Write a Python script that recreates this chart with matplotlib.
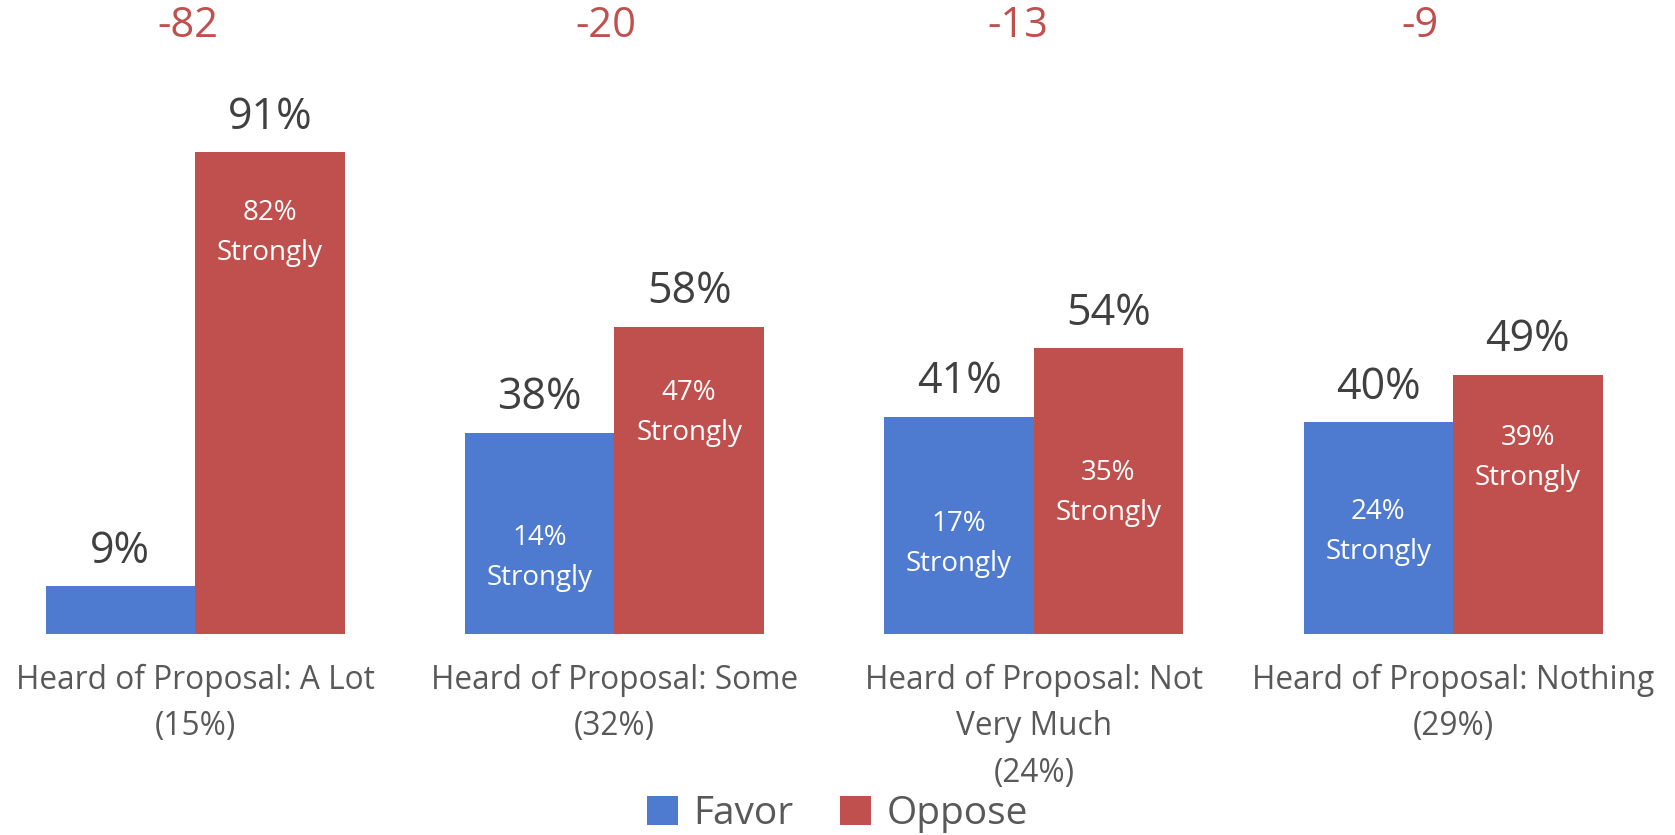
import numpy as np
import matplotlib
matplotlib.use("Agg")
import matplotlib.pyplot as plt

plt.rcParams['font.family'] = ['Open Sans', 'DejaVu Sans']

# data
categories = ["Heard of Proposal: A Lot\n(15%)",
              "Heard of Proposal: Some\n(32%)",
              "Heard of Proposal: Not\nVery Much\n(24%)",
              "Heard of Proposal: Nothing\n(29%)"]
favor = [9, 38, 41, 40]
oppose = [91, 58, 54, 49]
favor_strong = [None, 14, 17, 24]
oppose_strong = [82, 47, 35, 39]
net = [-82, -20, -13, -9]

# where the "Strongly" notes sit inside the bars (in % units)
favor_note_y = [None, 14.4, 17.1, 19.2]
oppose_note_y = [75.8, 41.8, 26.7, 33.2]
# net labels were nudged left by hand in the original (points)
net_dx = [-5, -6, -11.5, -24]

BLUE = "#4E7BD0"
RED = "#C0504D"
DARK = "#404040"
GREY = "#595959"

fig = plt.figure(figsize=(16.75, 8.35), dpi=100)
ax = fig.add_axes([0, 0.2407, 1, 0.7593])
ax.set_xlim(-0.465, 3.529)
ax.set_ylim(0, 119.8)
ax.axis('off')

x = np.arange(len(categories))
w = 0.3565
b1 = ax.bar(x - w / 2, favor, w, color=BLUE, label="Favor")
b2 = ax.bar(x + w / 2, oppose, w, color=RED, label="Oppose")

for i in range(len(categories)):
    # totals above bars
    for xx, v in [(x[i] - w / 2, favor[i]), (x[i] + w / 2, oppose[i])]:
        ax.annotate(f"{v}%", xy=(xx, v), xytext=(0, 17), textcoords='offset points',
                    ha='center', va='baseline', fontsize=31, color=DARK)
    # net difference on top
    ax.annotate(f"{net[i]}", xy=(x[i], 114.8), xytext=(net_dx[i], 0), textcoords='offset points',
                ha='center', va='center', fontsize=30, color=RED)
    # strongly notes
    for xx, s, yy in [(x[i] - w / 2, favor_strong[i], favor_note_y[i]),
                      (x[i] + w / 2, oppose_strong[i], oppose_note_y[i])]:
        if s is None:
            continue
        ax.annotate(f"{s}%", xy=(xx, yy), xytext=(0, 14.4), textcoords='offset points',
                    ha='center', va='center', fontsize=20, color='white')
        ax.annotate("Strongly", xy=(xx, yy), xytext=(0, -14.4), textcoords='offset points',
                    ha='center', va='center', fontsize=20, color='white')
    # category labels
    for k, line in enumerate(categories[i].split("\n")):
        ax.annotate(line, xy=(x[i], 0), xytext=(0, -(46 + k * 46.5) * 0.72),
                    textcoords='offset points', ha='center', va='center',
                    fontsize=22.8, color=GREY, annotation_clip=False)

fig.legend(handles=[b1, b2], loc='center', bbox_to_anchor=(0.5, 1 - 814 / 835), ncol=2,
           frameon=False, fontsize=28, labelcolor=GREY, handlelength=0.8, handleheight=0.8,
           handletextpad=0.4, columnspacing=1.2)

fig.savefig("out.png", dpi=100)
